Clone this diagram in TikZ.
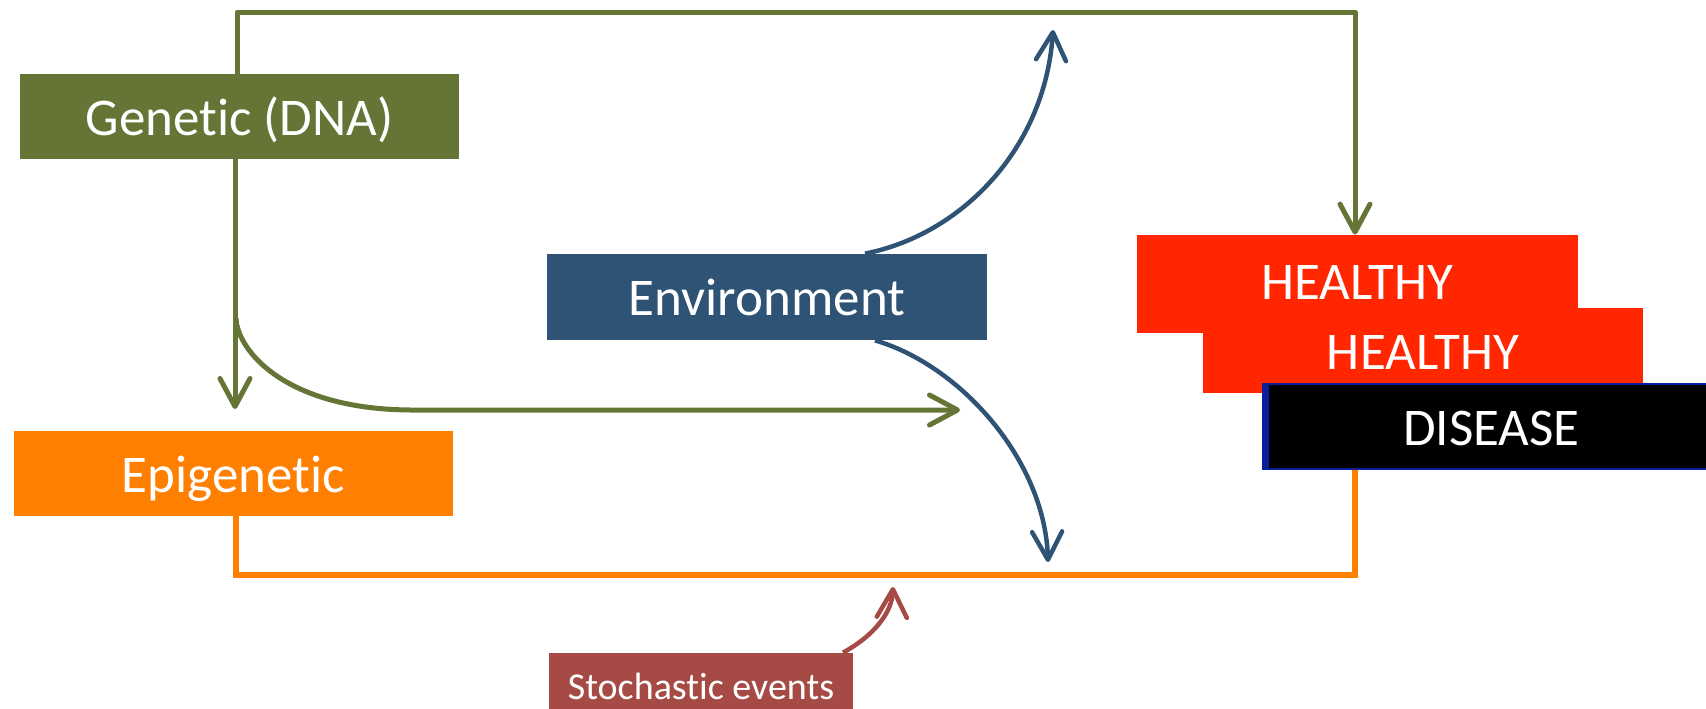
\documentclass[tikz,border=0pt]{standalone}
\usepackage{fontspec}
\setmainfont{Carlito}[Ligatures={NoCommon}]
\usetikzlibrary{arrows.meta}
\definecolor{cgreen}{HTML}{647536}
\definecolor{corange}{HTML}{FF7F00}
\definecolor{cblue}{HTML}{2F5375}
\definecolor{cred}{HTML}{FF2600}
\definecolor{cdblue}{HTML}{0A1E9A}
\definecolor{cbrown}{HTML}{A64A45}
\begin{document}
\begin{tikzpicture}[x=0.5pt,y=-0.5pt,
  box/.style={rectangle, inner sep=0pt, text=white, font=\fontsize{26.5}{30}\selectfont, text depth=0pt},
  barb/.style={-{Straight Barb[length=14pt,width=15pt,round]}},
  gline/.style={draw=cgreen, line width=2.5pt, line join=round},
  oline/.style={draw=corange, line width=2.75pt},
  bline/.style={draw=cblue, line width=2.25pt},
  rline/.style={draw=cbrown, line width=2.25pt}]
\useasboundingbox (0,0) rectangle (1706,708);
% boxes
\node[box, fill=cgreen, minimum width=219.5pt, minimum height=42.5pt, text height=18.5pt] (gen) at (239.5,116.5) {Genetic (DNA)};
\node[box, fill=corange, minimum width=219.5pt, minimum height=42.5pt, text height=18.75pt] (epi) at (233.5,473.5) {Epigenetic};
\node[box, fill=cblue, minimum width=220pt, minimum height=43pt, text height=18.25pt] (env) at (767,297) {Environment};
\node[box, fill=cred, minimum width=220.5pt, minimum height=49pt, text height=15.4pt] (h1) at (1357.5,284) {HEALTHY};
\node[box, fill=cred, minimum width=220pt, minimum height=42.5pt, text height=19pt] (h2) at (1423,350.5) {HEALTHY};
\node[box, fill=black, draw=cdblue, line width=1pt, minimum width=228.5pt, minimum height=42.5pt, text height=18.9pt] (dis) at (1491.5,426.5) {DISEASE};
\fill[cdblue] (dis.north west) rectangle ([xshift=3.5pt]dis.south west);
\node[box, fill=cbrown, font=\fontsize{19}{22}\selectfont, minimum width=152pt, minimum height=34.5pt, text height=12pt] (sto) at (701,687.5) {Stochastic events};
% coordinates
\coordinate (topL) at (237,12);
\coordinate (topR) at (1355,12);
\coordinate (gtip) at (235,409);
\coordinate (gbranch) at (236,318);
\coordinate (gbend) at (413,410);
\coordinate (gend) at (960,410);
\coordinate (btop) at (1053,30);
\coordinate (bbot) at (1048,562);
\coordinate (oL) at (236,575);
\coordinate (oR) at (1355,575);
\coordinate (rtip) at (893,587);
\coordinate (bA) at (865,0);
\coordinate (bB) at (875,0);
\coordinate (rA) at (843,0);
% connectors
\draw[gline, barb] (gen.north -| topL) -- (topL) -- (topR) -- (h1.north -| topR);
\draw[gline, barb] (gen.south -| gtip) -- (gtip);
\draw[gline, barb] (gbranch) .. controls (237,350) and (285,410) .. (gbend) -- (gend);
\draw[bline, barb] (env.north -| bA) .. controls (960,235) and (1045,150) .. (btop);
\draw[bline, barb] (env.south -| bB) .. controls (960,365) and (1045,460) .. (bbot);
\draw[oline] (epi.south -| oL) -- (oL) -- (oR) -- (dis.south -| oR);
\draw[rline, barb] (sto.north -| rA) .. controls (875,635) and (892,612) .. (rtip);
\end{tikzpicture}
\end{document}
